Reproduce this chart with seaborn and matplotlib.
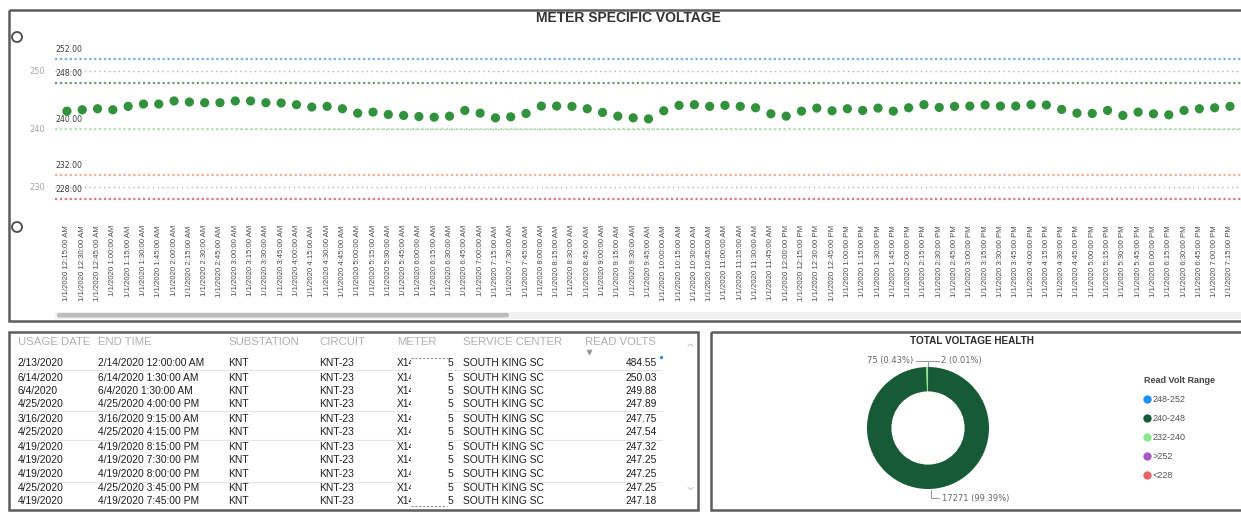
import matplotlib.pyplot as plt
import pandas as pd
import seaborn as sns
from matplotlib.lines import Line2D
from matplotlib.patches import Rectangle, FancyBboxPatch, Circle

# meter readings, 15 minute interval, 1/1/2020 12:15 AM .. 7:15 PM
read_volts = [
    243.08, 243.31, 243.49, 243.31, 243.90, 244.30, 244.30, 244.83, 244.65, 244.53,
    244.53, 244.83, 244.83, 244.53, 244.48, 244.19, 243.78, 243.90, 243.49, 242.73,
    242.91, 242.50, 242.33, 242.15, 242.03, 242.21, 243.20, 242.73, 241.92, 242.09,
    242.67, 243.95, 243.95, 243.90, 243.49, 242.85, 242.21, 241.92, 241.74, 243.14,
    244.07, 244.19, 243.90, 244.07, 243.90, 243.66, 242.62, 242.21, 243.08, 243.60,
    243.14, 243.49, 243.20, 243.60, 243.08, 243.66, 244.19, 243.72, 243.90, 243.95,
    244.13, 243.95, 243.95, 244.19, 244.13, 243.37, 242.73, 242.67, 243.20, 242.33,
    242.91, 242.62, 242.44, 243.20, 243.49, 243.66, 243.90,
]
read_times = pd.date_range("2020-01-01 00:15", "2020-01-01 19:15", freq="15min")
time_labels = [f"1/1/2020 {t.strftime('%I').lstrip('0')}:{t.strftime('%M:%S %p')}" for t in read_times]

ref_values = [252, 248, 240, 232, 228]
ref_colors = ["#6fb2f2", "#6f9c80", "#b2e6b2", "#f2ae95", "#d97780"]

# table
usage_date = ["2/13/2020", "6/14/2020", "6/4/2020", "4/25/2020", "3/16/2020", "4/25/2020",
              "4/19/2020", "4/19/2020", "4/19/2020", "4/25/2020", "4/19/2020"]
end_time = ["2/14/2020 12:00:00 AM", "6/14/2020 1:30:00 AM", "6/4/2020 1:30:00 AM",
            "4/25/2020 4:00:00 PM", "3/16/2020 9:15:00 AM", "4/25/2020 4:15:00 PM",
            "4/19/2020 8:15:00 PM", "4/19/2020 7:30:00 PM", "4/19/2020 8:00:00 PM",
            "4/25/2020 3:45:00 PM", "4/19/2020 7:45:00 PM"]
substation = ["KNT"] * 11
circuit = ["KNT-23"] * 11
meter_start = ["X14"] * 11
meter_end = ["5"] * 11
service_center = ["SOUTH KING SC"] * 11
table_volts = [484.55, 250.03, 249.88, 247.89, 247.75, 247.54, 247.32, 247.25, 247.25, 247.25, 247.18]

# donut
health_ranges = ["248-252", "240-248", "232-240"]
health_counts = [2, 17271, 75]
health_pcts = ["0.01%", "99.39%", "0.43%"]
legend_ranges = ["248-252", "240-248", "232-240", ">252", "<228"]
legend_colors = ["#1e90ff", "#165a36", "#8fe68f", "#a45cc4", "#e5646b"]

sns.set_theme(style="white")
plt.rcParams["font.family"] = ["Liberation Sans", "DejaVu Sans"]

W, H = 1241, 515
fig = plt.figure(figsize=(W / 100, H / 100), dpi=100)


def px_axes(x0, y0, x1, y1, z=2):
    a = fig.add_axes([x0 / W, 1 - y1 / H, (x1 - x0) / W, (y1 - y0) / H], zorder=z)
    a.patch.set_alpha(0)
    return a


bg = fig.add_axes([0, 0, 1, 1], zorder=0)
bg.set_xlim(0, W)
bg.set_ylim(H, 0)
bg.axis("off")

# panels
bg.add_patch(Rectangle((9, 9.5), 1240, 311, fill=False, lw=1.8, ec="#5c5c5c"))
bg.add_patch(Rectangle((9, 331.5), 689, 178, fill=False, lw=1.8, ec="#5c5c5c"))
bg.add_patch(Rectangle((711, 332), 540, 177.5, fill=False, lw=1.8, ec="#5c5c5c"))
for cy in [37, 227]:
    bg.add_patch(Circle((17, cy), 5, fc="white", ec="#4a4a4a", lw=1.3))
bg.add_patch(Rectangle((55, 311.5), 1186, 7, fc="#f0f0f0", ec="none"))
bg.add_patch(FancyBboxPatch((57, 313), 452, 4.5, boxstyle="round,pad=0,rounding_size=2",
                            fc="#bcbcbc", ec="none"))

# ---- METER SPECIFIC VOLTAGE ----
df = pd.DataFrame({"idx": range(len(read_volts)), "volts": read_volts})
ax = px_axes(55, 40, 1241, 212)
fig.text(628 / W, 1 - 17.5 / H, "METER SPECIFIC VOLTAGE", fontsize=10, fontweight="bold",
         color="#333333", ha="center", va="center")

for g in [250, 240, 230]:
    ax.axhline(g, color="#b4b4b4", lw=1.0, ls=(0, (1, 2.5)), zorder=1)
for v, c in zip(ref_values, ref_colors):
    ax.axhline(v, color=c, lw=1.6, ls=(0, (1, 1.2)), zorder=2)
    ax.text(0.0, v + 1.65, f"{v:.2f}", transform=ax.get_yaxis_transform(), fontsize=5.6,
            color="#3c3c3c", va="center", ha="left", family="DejaVu Sans")

sns.scatterplot(data=df, x="idx", y="volts", ax=ax, color="#31913c", s=44,
                edgecolor="none", zorder=3)
ax.set_xlim(-0.78, 76.72)
ax.set_ylim(225.69, 255.34)
ax.set_xlabel("")
ax.set_ylabel("")
ax.set_yticks([230, 240, 250])
ax.set_yticklabels(["230", "240", "250"], fontsize=6, color="#a8a8a8", family="DejaVu Sans")
ax.set_xticks(range(len(time_labels)))
ax.set_xticklabels(time_labels, rotation=90, fontsize=5.6, color="#4a4a4a")
ax.tick_params(axis="y", length=0, pad=7)
ax.tick_params(axis="x", length=0, pad=9.5)
for s in ax.spines.values():
    s.set_visible(False)

# ---- table ----
cols_x = [18, 98, 228, 319, 397, 463]
headers = ["USAGE DATE", "END TIME", "SUBSTATION", "CIRCUIT", "METER", "SERVICE CENTER"]
for hx, h in zip(cols_x, headers):
    bg.text(hx, 342, h, fontsize=8.2, color="#b0b0b0", va="center", ha="left")
bg.text(585, 342, "READ VOLTS", fontsize=8.2, color="#b0b0b0", va="center", ha="left")
bg.plot([589], [351.5], marker="v", ms=3, color="#9a9a9a")
bg.plot([688, 690.5, 693], [346, 344, 346], color="#c0c0c0", lw=0.7)
bg.plot([688, 690.5, 693], [487.5, 489.5, 487.5], color="#c0c0c0", lw=0.7)
bg.plot([661], [357], marker="o", ms=1.5, color="#3a8fe0")

row_y = [362.7, 377.7, 391, 404.3, 419, 432.3, 447, 460.3, 473.7, 488.3, 501]
for yy in [370, 411, 439.5, 481.5]:
    bg.plot([18, 662], [yy, yy], color="#e4e4e4", lw=0.8)
tkw = dict(fontsize=7.4, color="#1e1e1e", va="center")
for i, yy in enumerate(row_y):
    vals = [usage_date[i], end_time[i], substation[i], circuit[i], meter_start[i]]
    for cx, t in zip(cols_x[:5], vals):
        bg.text(cx, yy, t, ha="left", **tkw)
    bg.text(453, yy, meter_end[i], ha="right", **tkw)
    bg.text(cols_x[5], yy, service_center[i], ha="left", **tkw)
    bg.text(657, yy, f"{table_volts[i]:.2f}", ha="right", **tkw)
bg.add_patch(Rectangle((411, 357.5), 36, 148, fc="white", ec="none", zorder=3))
for yy in [357.5, 505.5]:
    bg.plot([411, 447], [yy, yy], color="#8a8a8a", lw=0.8, ls=(0, (2, 1.5)), zorder=4)

# ---- TOTAL VOLTAGE HEALTH ----
bg.text(972, 340.5, "TOTAL VOLTAGE HEALTH", fontsize=7.2, fontweight="bold",
        color="#2b2b2b", ha="center", va="center")
color_map = dict(zip(legend_ranges, legend_colors))
pax = px_axes(928 - 61, 428 - 61, 928 + 61, 428 + 61)
pax.pie(health_counts, colors=[color_map[r] for r in health_ranges], startangle=90,
        counterclock=False, radius=1, wedgeprops=dict(width=0.4, edgecolor="none"))
pax.set_xlim(-1, 1)
pax.set_ylim(-1, 1)

lab = [f"{c} ({p})" for c, p in zip(health_counts, health_pcts)]
bg.plot([916, 939], [361, 361], color="#9a9a9a", lw=0.8)
bg.plot([928, 928], [361, 367], color="#9a9a9a", lw=0.8)
bg.text(913, 361, lab[2], fontsize=6, color="#666666", ha="right", va="center",
        family="DejaVu Sans")
bg.text(941, 361, lab[0], fontsize=6, color="#666666", ha="left", va="center",
        family="DejaVu Sans")
bg.plot([931, 931, 939], [490, 497.5, 497.5], color="#9a9a9a", lw=0.8)
bg.text(942, 498, lab[1], fontsize=6, color="#666666", ha="left", va="center",
        family="DejaVu Sans")

handles = [Line2D([], [], ls="none", marker="o", ms=5, color=c) for c in legend_colors]
leg = fig.legend(handles, legend_ranges, title="Read Volt Range", loc="upper left",
                 bbox_to_anchor=(1136 / W, 1 - 368 / H), frameon=False, fontsize=6.5,
                 labelspacing=1.1, handlelength=0.6, handletextpad=0.35,
                 alignment="left", title_fontproperties={"weight": "bold", "size": 6.5})
for t in leg.get_texts():
    t.set_color("#555555")
leg.get_title().set_color("#444444")

fig.savefig("out.png", dpi=100)
